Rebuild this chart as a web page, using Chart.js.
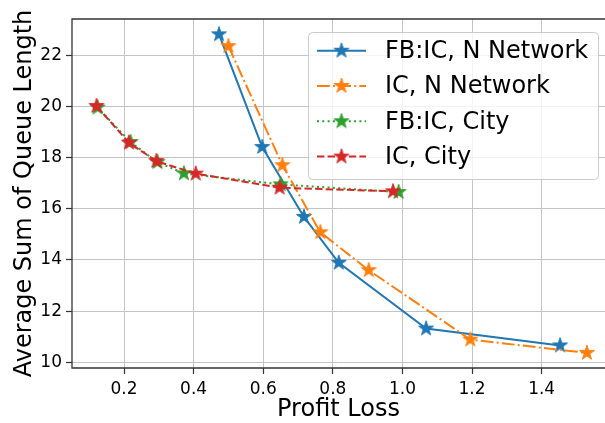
<!DOCTYPE html>
<html>
<head>
<meta charset="utf-8">
<script src="https://cdn.jsdelivr.net/npm/chart.js@4.4.0/dist/chart.umd.min.js"></script>
<style>
  html, body { margin: 0; padding: 0; background: #fff; overflow: hidden; }
</style>
</head>
<body>
<canvas id="chart" width="605" height="423" style="width:605px;height:423px;display:block"></canvas>
<script>
// series
const seriesNames = ['FB:IC, N Network', 'IC, N Network', 'FB:IC, City', 'IC, City'];
const colors = ['#1f77b4', '#ff7f0e', '#2ca02c', '#d62728'];

const fbNetX = [0.473, 0.597, 0.717, 0.817, 1.068, 1.453];
const fbNetY = [22.81, 18.41, 15.68, 13.89, 11.32, 10.66];
const icNetX = [0.500, 0.655, 0.764, 0.903, 1.195, 1.530];
const icNetY = [22.35, 17.70, 15.08, 13.60, 10.89, 10.37];
const fbCityX = [0.124, 0.219, 0.296, 0.372, 0.650, 0.989];
const fbCityY = [19.95, 18.60, 17.82, 17.38, 16.95, 16.65];
const icCityX = [0.121, 0.214, 0.293, 0.406, 0.647, 0.973];
const icCityY = [20.01, 18.58, 17.86, 17.37, 16.82, 16.68];

const xTicks = [0.2, 0.4, 0.6, 0.8, 1.0, 1.2, 1.4];
const yTicks = [10, 12, 14, 16, 18, 20, 22];

const FONT = 'DejaVu Sans';
const dashes = [[], [12.8, 3.2, 2, 3.2], [2, 3.3], [7.4, 3.2]];

// filled five point star, like matplotlib's '*' marker
function makeStar(color) {
  const c = document.createElement('canvas');
  c.width = 20; c.height = 20;
  const g = c.getContext('2d');
  const R = 7.8, r = R * 0.382;
  g.beginPath();
  for (let i = 0; i < 10; i++) {
    const rad = i % 2 === 0 ? R : r;
    const a = -Math.PI / 2 + i * Math.PI / 5;
    const px = 10 + rad * Math.cos(a), py = 10 + rad * Math.sin(a);
    if (i === 0) g.moveTo(px, py); else g.lineTo(px, py);
  }
  g.closePath();
  g.fillStyle = color;
  g.fill();
  g.strokeStyle = color;
  g.lineWidth = 1;
  g.stroke();
  return c;
}
const stars = colors.map(makeStar);

function pts(xs, ys) {
  return xs.map((x, i) => ({ x: x, y: ys[i] }));
}
const allX = [fbNetX, icNetX, fbCityX, icCityX];
const allY = [fbNetY, icNetY, fbCityY, icCityY];

const datasets = seriesNames.map((name, i) => ({
  label: name,
  data: pts(allX[i], allY[i]),
  showLine: true,
  borderColor: colors[i],
  backgroundColor: colors[i],
  borderWidth: 2,
  borderDash: dashes[i],
  pointStyle: stars[i],
  pointRadius: 8,
  tension: 0,
  order: 4 - i
}));

// the x scale keeps ~10px on the right for its labels; run the plot area to the edge
const stretchPlugin = {
  id: 'stretch',
  afterLayout(chart) {
    const xs = chart.scales.x;
    chart.chartArea.right = chart.width;
    chart.chartArea.width = chart.chartArea.right - chart.chartArea.left;
    xs.right = chart.width;
    xs.width = xs.right - xs.left;
    xs.configure();
    const ys = chart.scales.y;
    ys._gridLineItems = null;
  }
};

// spines (the right one falls outside the picture) plus a matplotlib like legend
const framePlugin = {
  id: 'frame',
  afterDraw(chart) {
    const { ctx, chartArea: a } = chart;
    ctx.save();
    ctx.strokeStyle = '#333';
    ctx.lineWidth = 1.3;
    ctx.beginPath();
    ctx.moveTo(chart.width, a.top);
    ctx.lineTo(a.left, a.top);
    ctx.lineTo(a.left, a.bottom);
    ctx.lineTo(chart.width, a.bottom);
    ctx.stroke();

    // legend
    const bx = 308, by = 32, bw = 290, bh = 147;
    ctx.beginPath();
    if (ctx.roundRect) ctx.roundRect(bx + 0.5, by + 0.5, bw, bh, 4);
    else ctx.rect(bx + 0.5, by + 0.5, bw, bh);
    ctx.fillStyle = 'rgba(255,255,255,0.8)';
    ctx.fill();
    ctx.strokeStyle = '#cccccc';
    ctx.lineWidth = 1;
    ctx.stroke();

    ctx.font = '24px "' + FONT + '"';
    ctx.textBaseline = 'middle';
    ctx.textAlign = 'left';
    chart.data.datasets.forEach((ds, i) => {
      const y = 50.7 + i * 35.3;
      ctx.beginPath();
      ctx.setLineDash(ds.borderDash);
      ctx.strokeStyle = ds.borderColor;
      ctx.lineWidth = 2;
      ctx.moveTo(317, y);
      ctx.lineTo(366, y);
      ctx.stroke();
      ctx.setLineDash([]);
      ctx.drawImage(ds.pointStyle, 341.5 - 10, y - 10);
      ctx.fillStyle = '#000';
      ctx.fillText(ds.label, 385, y + 1);
    });
    ctx.restore();
  }
};

new Chart(document.getElementById('chart'), {
  type: 'scatter',
  data: { datasets: datasets },
  options: {
    responsive: false,
    animation: false,
    devicePixelRatio: 1,
    layout: { padding: { top: 19, right: 0, left: 0, bottom: 0 } },
    plugins: { legend: { display: false }, tooltip: { enabled: false } },
    scales: {
      x: {
        type: 'linear',
        min: 0.0505,
        max: 1.582,
        border: { display: false },
        grid: { color: '#c4c4c4', lineWidth: 1, tickLength: 6, tickColor: '#333', tickWidth: 1.2 },
        afterBuildTicks(scale) { scale.ticks = xTicks.map(v => ({ value: v })); },
        afterFit(scale) { scale.height = 55; },
        ticks: {
          autoSkip: false,
          maxRotation: 0,
          padding: 5,
          color: '#000',
          font: { family: FONT, size: 17 },
          callback: v => v.toFixed(1)
        },
        title: {
          display: true,
          text: 'Profit Loss',
          color: '#000',
          font: { family: FONT, size: 24, lineHeight: 1 },
          padding: { top: 0, bottom: 1 }
        }
      },
      y: {
        type: 'linear',
        min: 9.78,
        max: 23.41,
        border: { display: false },
        grid: { color: '#c4c4c4', lineWidth: 1, tickLength: 6, tickColor: '#333', tickWidth: 1.2 },
        afterBuildTicks(scale) { scale.ticks = yTicks.map(v => ({ value: v })); },
        afterFit(scale) { scale.width = 72; },
        ticks: {
          autoSkip: false,
          padding: 4,
          color: '#000',
          font: { family: FONT, size: 17 },
          callback: v => String(v)
        },
        title: {
          display: true,
          text: 'Average Sum of Queue Length',
          color: '#000',
          font: { family: FONT, size: 24, lineHeight: 1 },
          padding: { top: 13, bottom: 0 }
        }
      }
    }
  },
  plugins: [stretchPlugin, framePlugin]
});
</script>
</body>
</html>
